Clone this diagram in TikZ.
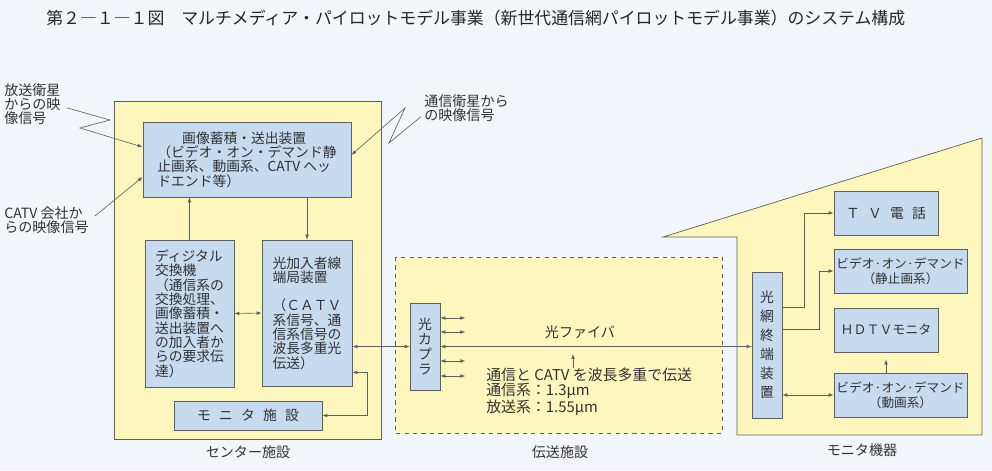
\documentclass[tikz,border=0pt]{standalone}
\usepackage{fontspec}
\setmainfont{Noto Sans CJK JP}
\usetikzlibrary{arrows.meta, positioning, calc}
\definecolor{sysbg}{RGB}{242, 246, 250}
\definecolor{sysyellow}{RGB}{253, 247, 190}
\definecolor{sysblue}{RGB}{198, 218, 240}
\definecolor{sysline}{RGB}{95, 95, 95}
\definecolor{systext}{RGB}{50, 50, 50}
\newcommand{\jgap}{\hspace{0.6em}}

\begin{document}
\begin{tikzpicture}[x=0.025cm, y=-0.025cm,
        every node/.style={text=systext, inner sep=0pt},
        box/.style={rectangle, draw=sysline, fill=sysblue, line width=0.5pt, align=left, font=\fontsize{9.8}{10.2}\selectfont},
        small/.style={box, align=center, minimum height=1.1cm, font=\fontsize{9}{10.6}\selectfont},
        area/.style={draw=sysline, fill=sysyellow, line width=0.5pt},
        lbl/.style={align=left, font=\fontsize{10}{10}\selectfont},
        arrow/.style={-{Latex[length=3.5pt,width=2.6pt]}, draw=sysline, line width=0.45pt},
        dbl/.style={{Latex[length=3.5pt,width=2.6pt]}-{Latex[length=3.5pt,width=2.6pt]}, draw=sysline, line width=0.45pt}
    ]
        \path[use as bounding box, fill=sysbg] (0,0) rectangle (992,470);
        \node[anchor=west, font=\fontsize{12}{14}\selectfont, text=black!85] (title) at (46,18) {第２―１―１図　マルチメディア・パイロットモデル事業（新世代通信網パイロットモデル事業）のシステム構成};

        \draw[area] (114,101) rectangle (381,439);
        \draw[area, dashed] (395,257) rectangle (722,433);
        \draw[area] (663,237) -- (737,237) -- (737,435) -- (982,435) -- (982,138) -- cycle;
        \node[lbl] (centerlbl) at (248,452) {センター施設};
        \node[lbl] (translbl) at (560,452) {伝送施設};
        \node[lbl] (monlbl) at (862,450) {モニタ機器};

        \node[box, minimum width=5.2cm, minimum height=1.875cm] (store) at (247,159.5) {\hspace*{1.8em}画像蓄積・送出装置\\（ビデオ・オン・デマンド静\\止画系、動画系、CATV へッ\\ドエンド等）};
        \node[box, minimum width=2.225cm, minimum height=3.675cm] (digital) at (189.5,313.5) {ディジタル\\交換機\\（通信系の\\交換処理、\\画像蓄積・\\送出装置へ\\の加入者か\\らの要求伝\\達）};
        \node[box, minimum width=2.25cm, minimum height=3.65cm] (olt) at (307,313) {光加入者線\\端局装置\\[10pt]（ＣＡＴＶ\\系信号、通\\信系信号の\\波長多重光\\伝送）};
        \node[box, align=center, minimum width=3.7cm, minimum height=0.725cm] (monfac) at (248,415.5) {モ\jgap ニ\jgap タ\jgap 施\jgap 設};

        \node[box, align=center, minimum width=0.75cm, minimum height=2.175cm, font=\fontsize{9.8}{10.8}\selectfont] (coupler) at (425,346.5) {光\\カ\\プ\\ラ};
        \node[lbl] (fiberlbl) at (580,332) {光ファイバ};
        \node[lbl, anchor=north west, font=\fontsize{10.6}{10.6}\selectfont] (wdm) at (486,368) {通信と CATV を波長多重で伝送\\通信系：1.3μm\\放送系：1.55μm};

        \node[box, align=center, minimum width=0.75cm, minimum height=3.65cm, font=\fontsize{9.8}{13.5}\selectfont] (onu) at (767,345) {光\\網\\終\\端\\装\\置};
        \node[box, align=center, minimum width=2.6cm, minimum height=1.1cm] (tv) at (886,213) {Ｔ\jgap Ｖ\jgap 電\jgap 話};
        \node[small, minimum width=3.325cm] (vods) at (900.5,271) {ビデオ·オン·デマンド\\（静止画系）};
        \node[small, minimum width=2.6cm, font=\fontsize{9.2}{10}\selectfont] (hdtv) at (886,330) {ＨＤＴＶモニタ};
        \node[small, minimum width=3.325cm] (vodm) at (900.5,395) {ビデオ·オン·デマンド\\（動画系）};

        \node[lbl, anchor=north west] (bsat) at (4,83) {放送衛星\\からの映\\像信号};
        \node[lbl, anchor=north west] (csat) at (424,94) {通信衛星から\\の映像信号};
        \node[lbl, anchor=north west] (catv) at (4,206) {CATV 会社か\\らの映像信号};

        \coordinate (bz1) at (110,120);
        \coordinate (bz2) at (80,128);
        \coordinate (cz1) at (389,143);
        \coordinate (cz2) at (405,108);
        \draw[arrow] ($(bsat.east)+(6,4)$) -- (bz1) -- (bz2) -- ($(store.west)+(0,-12.5)$);
        \draw[arrow] ($(csat.south west)+(-3,-5)$) -- (cz1) -- (cz2) -- ($(store.east)+(0,-4.5)$);
        \draw[arrow] ($(catv.north east)+(6,10)$) -- ($(store.west)+(0,17.5)$);

        \draw[arrow] (digital.north) -- (digital.north |- store.south);
        \draw[arrow] (store.south -| olt.north) -- (olt.north);
        \draw[dbl] (digital.east) -- (olt.west);
        \draw[dbl] (olt.east |- coupler.west) -- (coupler.west);
        \coordinate (mloop) at (367,415.5);
        \draw[dbl] ($(olt.south east)+(0,-14)$) -| (mloop) -- (monfac.east);

        \foreach \o [count=\i] in {-28.5,-14.5,14.5,29.5} {
            \coordinate (stub\i) at ($(coupler.east)+(25,\o)$);
            \draw[dbl] (coupler.east |- stub\i) -- (stub\i);
        }
        \draw[dbl] (coupler.east) -- (coupler.east -| onu.west);
        \coordinate (wdmtip) at (573,354);
        \draw[arrow] (wdm.north -| wdmtip) -- (wdmtip);

        \coordinate (tvbend) at (804,213);
        \coordinate (vsbend) at (819,271);
        \draw[arrow] ($(onu.north east)+(0,36)$) -| (tvbend) -- (tv.west);
        \draw[arrow] ($(onu.north east)+(0,58)$) -| (vsbend) -- (vods.west);
        \draw[dbl] (onu.east |- vodm.west) -- (vodm.west);
        \draw[arrow, shorten >=5pt] (hdtv.south |- vodm.north) -- (hdtv.south);
    \end{tikzpicture}
\end{document}
